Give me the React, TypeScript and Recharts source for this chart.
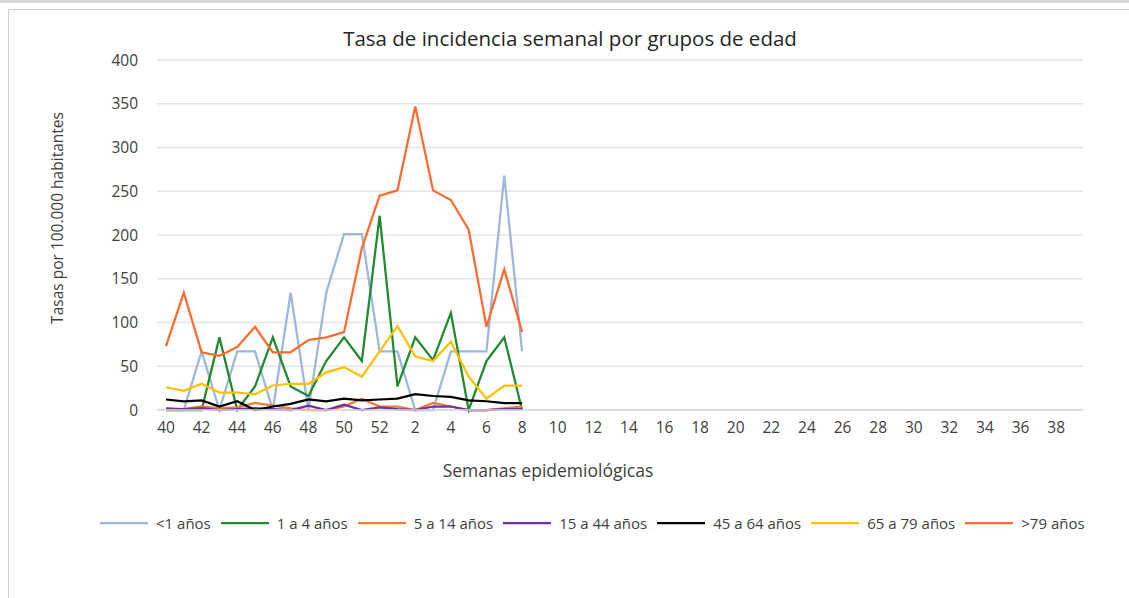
import React from "react"
import { LineChart, Line, XAxis, YAxis, CartesianGrid } from "recharts"

// semanas epidemiológicas (40..52 del año anterior, 1..39)
const weeks = [
  "40", "41", "42", "43", "44", "45", "46", "47", "48", "49", "50", "51", "52",
  "1", "2", "3", "4", "5", "6", "7", "8", "9", "10", "11", "12", "13", "14", "15",
  "16", "17", "18", "19", "20", "21", "22", "23", "24", "25", "26", "27", "28",
  "29", "30", "31", "32", "33", "34", "35", "36", "37", "38", "39",
]

const yTicks = [0, 50, 100, 150, 200, 250, 300, 350, 400]

// tasas por 100.000 habitantes, semana 40 a semana 8
const menos1 = [0, 0, 67, 0, 67, 67, 0, 134, 0, 134, 201, 201, 67, 67, 0, 0, 67, 67, 67, 268, 67]
const de1a4 = [0, 0, 0, 83, 0, 27, 83, 27, 16, 56, 83, 56, 222, 27, 83, 57, 111, 0, 56, 83, 0]
const de5a14 = [1, 1, 4, 2, 3, 8, 5, 2, 0, 0, 4, 13, 4, 4, 0, 8, 4, 0, 0, 2, 4]
const de15a44 = [2, 1, 2, 0, 1, 2, 1, 0, 5, 0, 6, 0, 3, 1, 0, 4, 4, 0, 0, 1, 1]
const de45a64 = [12, 10, 11, 4, 10, 0, 4, 7, 12, 10, 13, 11, 12, 13, 18, 16, 15, 11, 10, 8, 8]
const de65a79 = [26, 22, 30, 20, 20, 18, 28, 30, 30, 43, 49, 38, 67, 96, 61, 56, 78, 38, 13, 28, 28]
const mayor79 = [73, 134, 66, 62, 72, 95, 66, 66, 80, 83, 89, 185, 245, 251, 347, 251, 240, 206, 95, 161, 89]

const series = [
  { key: "g1", name: "<1 años", values: menos1, color: "#9BB7DB" },
  { key: "g2", name: "1 a 4 años", values: de1a4, color: "#1F8A2E" },
  { key: "g3", name: "5 a 14 años", values: de5a14, color: "#ED7D31" },
  { key: "g4", name: "15 a 44 años", values: de15a44, color: "#7030A0" },
  { key: "g5", name: "45 a 64 años", values: de45a64, color: "#000000" },
  { key: "g6", name: "65 a 79 años", values: de65a79, color: "#FFC000" },
  { key: "g7", name: ">79 años", values: mayor79, color: "#FF6A2E" },
]

const data = weeks.map((w, i) => {
  const row: Record<string, string | number | null> = { week: w }
  series.forEach((s) => {
    row[s.key] = i < s.values.length ? s.values[i] : null
  })
  return row
})

const font = "'Open Sans', 'Noto Sans', sans-serif"
const textColor = "#404040"

export default function App() {
  return (
    <div style={{ position: "absolute", left: 0, top: 0, width: 1129, height: 598, background: "#fff", fontFamily: font, overflow: "hidden" }}>
      <div style={{ position: "absolute", left: 0, top: 0, width: 1129, height: 3, background: "#D9D9D9" }} />
      <div style={{ position: "absolute", left: 8, top: 9, width: 1130, height: 600, borderLeft: "1px solid #D0D0D0", borderTop: "1px solid #D0D0D0" }} />

      <div style={{ position: "absolute", left: 0, top: 24, width: 1140, textAlign: "center", fontSize: 20.5, color: "#262626" }}>
        Tasa de incidencia semanal por grupos de edad
      </div>

      <div style={{ position: "absolute", left: 0, top: 0 }}>
        <LineChart width={1129} height={598} data={data} margin={{ top: 60, right: 46, left: 97, bottom: 158 }}>
          <CartesianGrid vertical={false} stroke="#E4E4E4" strokeWidth={1.5} />
          <XAxis
            dataKey="week"
            interval={1}
            padding={{ left: 9, right: 9 }}
            stroke="#D9D9D9"
            strokeWidth={1.5}
            tickLine={false}
            tick={{ fill: textColor, fontSize: 15.5, fontFamily: font }}
            tickMargin={6}
            height={30}
          />
          <YAxis
            domain={[0, 400]}
            ticks={yTicks}
            axisLine={false}
            tickLine={false}
            tickMargin={13}
            width={60}
            tick={{ fill: textColor, fontSize: 15.5, fontFamily: font }}
          />
          {series.map((s) => (
            <Line
              key={s.key}
              dataKey={s.key}
              name={s.name}
              stroke={s.color}
              strokeWidth={2.25}
              dot={false}
              activeDot={false}
              type="linear"
              isAnimationActive={false}
            />
          ))}
        </LineChart>
      </div>

      <div style={{ position: "absolute", left: 57, top: 218, width: 0, height: 0 }}>
        <div style={{ position: "absolute", left: 0, top: 0, transform: "translate(-50%, -50%) rotate(-90deg)", whiteSpace: "nowrap", fontSize: 15.5, color: textColor }}>
          Tasas por 100.000 habitantes
        </div>
      </div>

      <div style={{ position: "absolute", left: 0, top: 458, width: 1096, textAlign: "center", fontSize: 17.5, color: textColor }}>
        Semanas epidemiológicas
      </div>

      <div style={{ position: "absolute", left: 100, top: 513, display: "flex", alignItems: "center", fontSize: 15, color: textColor, whiteSpace: "nowrap" }}>
        {series.map((s) => (
          <div key={s.key} style={{ display: "flex", alignItems: "center", marginRight: 10 }}>
            <svg width={48} height={4} style={{ marginRight: 8 }}>
              <line x1={0} y1={2} x2={48} y2={2} stroke={s.color} strokeWidth={2.25} />
            </svg>
            <span>{s.name}</span>
          </div>
        ))}
      </div>
    </div>
  )
}
